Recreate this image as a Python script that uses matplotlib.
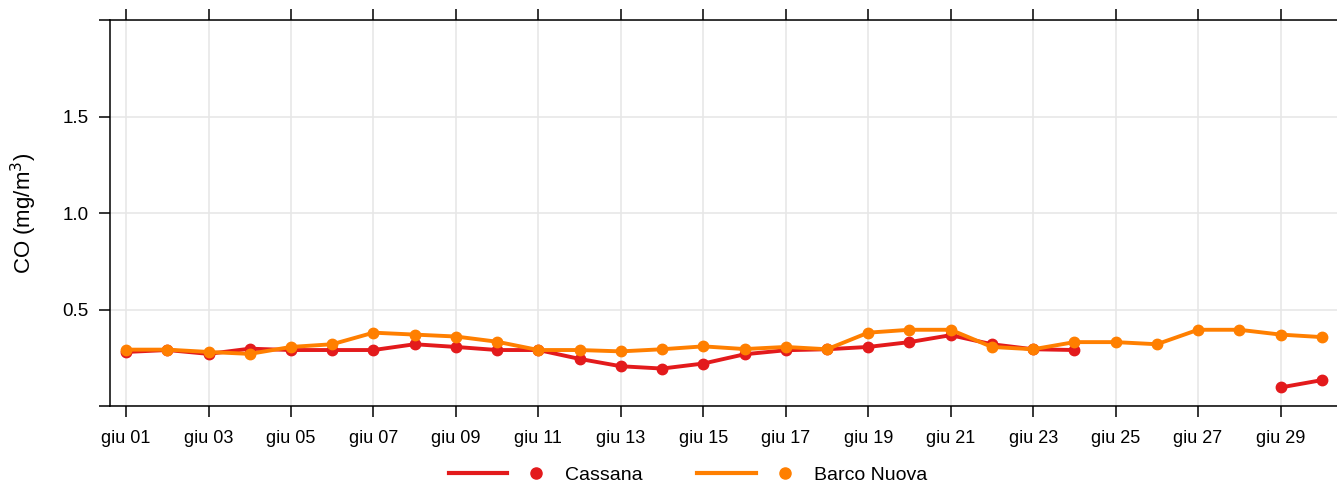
import numpy as np
import matplotlib
matplotlib.use('Agg')
import matplotlib.pyplot as plt
from matplotlib.lines import Line2D
from matplotlib.legend_handler import HandlerTuple

plt.rcParams['font.family'] = ['Liberation Sans', 'DejaVu Sans']

giorni = np.arange(1, 31)
cassana = [0.28, 0.29, 0.27, 0.297, 0.29, 0.29, 0.29, 0.32, 0.306, 0.29,
           0.29, 0.244, 0.206, 0.194, 0.22, 0.268, 0.289, 0.294, 0.306, 0.331,
           0.367, 0.32, 0.294, 0.29, np.nan, np.nan, np.nan, np.nan, 0.096, 0.134]
barco = [0.292, 0.292, 0.28, 0.27, 0.306, 0.32, 0.38, 0.37, 0.36, 0.333,
         0.29, 0.29, 0.283, 0.294, 0.309, 0.295, 0.306, 0.294, 0.38, 0.395,
         0.395, 0.306, 0.294, 0.331, 0.331, 0.32, 0.395, 0.395, 0.37, 0.357]
tick_giorni = np.arange(1, 31, 2)
tick_label = ['giu %02d' % g for g in tick_giorni]
yticks = [0, 0.5, 1.0, 1.5, 2.0]
ytick_label = ['', '0.5', '1.0', '1.5', '']

rosso = '#E31A1C'
arancio = '#FF7F00'

fig = plt.figure(figsize=(13.37, 4.87), dpi=100)
ax = fig.add_axes([110/1337, 1 - 406/487, 1 - 110/1337, (406-20)/487])

ax.plot(giorni, cassana, color=rosso, lw=2.8, marker='o', ms=7.5, zorder=3)
ax.plot(giorni, barco, color=arancio, lw=2.8, marker='o', ms=7.5, zorder=4)

ax.set_xlim(0.61, 30.37)
ax.set_ylim(0, 2)
ax.set_xticks(tick_giorni)
ax.set_xticklabels(tick_label, fontsize=13)
ax.set_yticks(yticks)
ax.set_yticklabels(ytick_label, fontsize=13.5)
ax.tick_params(axis='x', top=True, direction='out', length=8, width=1.1, pad=9)
ax.tick_params(axis='y', direction='out', length=8, width=1.1, pad=7.5)
ax.spines['right'].set_visible(False)
for s in ['left', 'top', 'bottom']:
    ax.spines[s].set_linewidth(1.1)
ax.grid(True, color='#E6E6E6', lw=1.1, zorder=0)
ax.set_axisbelow(True)
ax.set_ylabel('CO (mg/m$^3$)', fontsize=16)
ax.yaxis.set_label_coords(-(110 - 39) / (1337 - 110), 0.5)

l1 = Line2D([], [], color=rosso, lw=3)
m1 = Line2D([], [], color=rosso, marker='o', ls='', ms=8)
l2 = Line2D([], [], color=arancio, lw=3)
m2 = Line2D([], [], color=arancio, marker='o', ls='', ms=8)
fig.legend([(l1, m1), (l2, m2)], ['Cassana', 'Barco Nuova'], ncol=2,
           loc='center', bbox_to_anchor=(688/1337, 1 - 475/487),
           frameon=False, fontsize=14, handlelength=6.0, handletextpad=0.0,
           columnspacing=2.8,
           handler_map={tuple: HandlerTuple(ndivide=None, pad=0)})

fig.savefig('out.png', dpi=100)
